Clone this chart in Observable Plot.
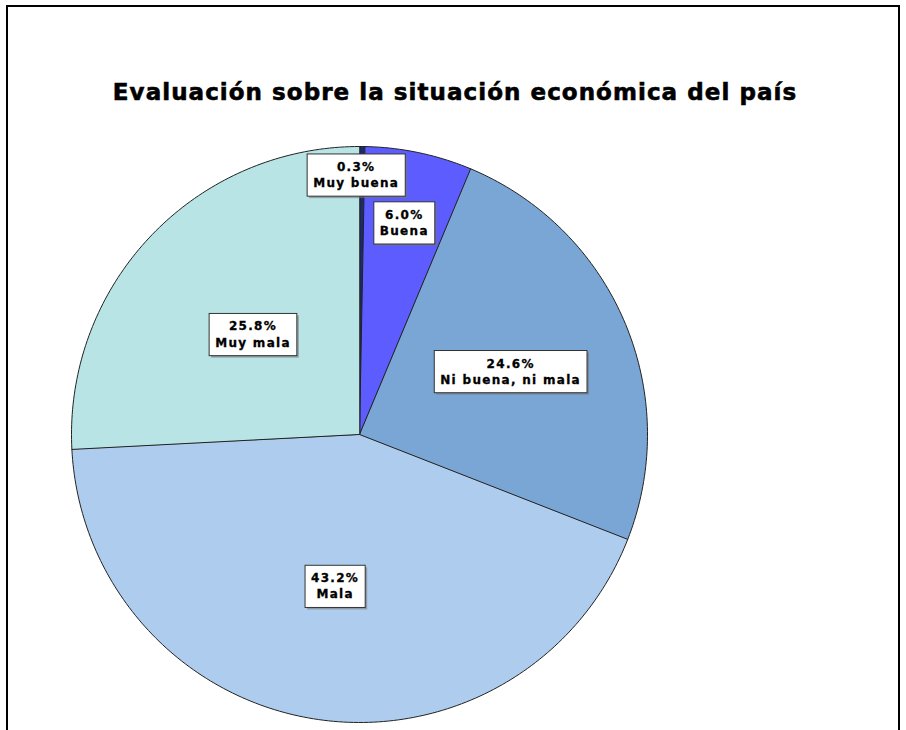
<!DOCTYPE html>
<html>
<head>
<meta charset="utf-8">
<script src="https://cdn.jsdelivr.net/npm/d3@7"></script>
<script src="https://cdn.jsdelivr.net/npm/@observablehq/plot@0.6"></script>
<style>
  html, body { margin: 0; padding: 0; background: #fff; }
  #wrap { position: relative; width: 906px; height: 730px; overflow: hidden; }
  #frame { position: absolute; left: 6px; top: 5px; width: 894px; height: 740px;
           border-top: 2px solid #000; border-left: 2px solid #000; border-right: 2px solid #000; box-sizing: border-box; }
  #title { position: absolute; left: 0; width: 910px; top: 79px; text-align: center;
           font-family: "DejaVu Sans", sans-serif; font-weight: 900; font-size: 23px; letter-spacing: 1.05px; color: #000;
           -webkit-text-stroke: 0.6px #000; }
  #chart { position: absolute; left: 0; top: 0; }
</style>
</head>
<body>
<div id="wrap">
  <div id="frame"></div>
  <div id="chart"></div>
  <div id="title">Evaluación sobre la situación económica del país</div>
</div>
<script>
const categories = ["Muy buena", "Buena", "Ni buena, ni mala", "Mala", "Muy mala"];
const percents = [0.3, 6.0, 24.6, 43.2, 25.8];
const colors = ["#1c2a6e", "#5c5cff", "#7aa6d6", "#aecdee", "#b8e4e6"];
// label placement (fraction of radius) and horizontal nudge in radius units
const labelRadius = [0.905, 0.755, 0.57, 0.53, 0.51];
const labelNudge = [-0.02, 0, 0, 0, 0];

const W = 906, H = 730, cx = 359, cy = 434, R = 288;

const total = d3.sum(percents);
let acc = 0;
const slices = categories.map((c, i) => {
  const a0 = acc / total * 2 * Math.PI;
  acc += percents[i];
  const a1 = acc / total * 2 * Math.PI;
  return {cat: c, pct: percents[i], a0, a1, i};
});

const pts = [];
for (const s of slices) {
  pts.push({cat: s.cat, x: 0, y: 0});
  const n = Math.max(2, Math.ceil((s.a1 - s.a0) / (Math.PI / 180)));
  for (let k = 0; k <= n; k++) {
    const a = s.a0 + (s.a1 - s.a0) * k / n;
    pts.push({cat: s.cat, x: Math.sin(a), y: Math.cos(a)});
  }
}

const labels = slices.map(s => {
  const m = (s.a0 + s.a1) / 2;
  const r = labelRadius[s.i];
  return {
    x: Math.sin(m) * r + labelNudge[s.i],
    y: Math.cos(m) * r,
    text: s.pct.toFixed(1) + "%\n" + s.cat
  };
});

const plot = Plot.plot({
  width: W, height: H,
  margin: 0,
  x: {domain: [-cx / R, (W - cx) / R], range: [0, W], axis: null},
  y: {domain: [-(H - cy) / R, cy / R], range: [H, 0], axis: null},
  color: {domain: categories, range: colors},
  style: {background: "transparent", overflow: "visible"},
  marks: [
    Plot.line(pts, {x: "x", y: "y", z: "cat", fill: "cat", stroke: "#222", strokeWidth: 1, curve: "linear-closed"}),
    Plot.text(labels, {x: "x", y: "y", text: "text", fontFamily: "DejaVu Sans", fontWeight: "bold",
      fontSize: 12, fill: "#000", lineHeight: 1.35, className: "pielabel"})
  ]
});

document.getElementById("chart").appendChild(plot);

// draw boxes behind labels
const svgNS = "http://www.w3.org/2000/svg";
plot.querySelectorAll("g.pielabel text").forEach(t => {
  t.setAttribute("letter-spacing", "1.3");
  t.setAttribute("stroke", "#000");
  t.setAttribute("stroke-width", "0.3");
  const b = t.getBBox();
  const padX = 6, padY = 6;
  const g = t.parentNode;
  const shadow = document.createElementNS(svgNS, "rect");
  shadow.setAttribute("x", b.x - padX + 2);
  shadow.setAttribute("y", b.y - padY + 2);
  shadow.setAttribute("width", b.width + 2 * padX);
  shadow.setAttribute("height", b.height + 2 * padY);
  shadow.setAttribute("fill", "#777");
  shadow.setAttribute("opacity", "0.6");
  const rect = document.createElementNS(svgNS, "rect");
  rect.setAttribute("x", b.x - padX);
  rect.setAttribute("y", b.y - padY);
  rect.setAttribute("width", b.width + 2 * padX);
  rect.setAttribute("height", b.height + 2 * padY);
  rect.setAttribute("fill", "#fff");
  rect.setAttribute("stroke", "#333");
  rect.setAttribute("stroke-width", "1");
  const tf = t.getAttribute("transform");
  if (tf) { shadow.setAttribute("transform", tf); rect.setAttribute("transform", tf); }
  g.insertBefore(shadow, t);
  g.insertBefore(rect, t);
});
</script>
</body>
</html>
